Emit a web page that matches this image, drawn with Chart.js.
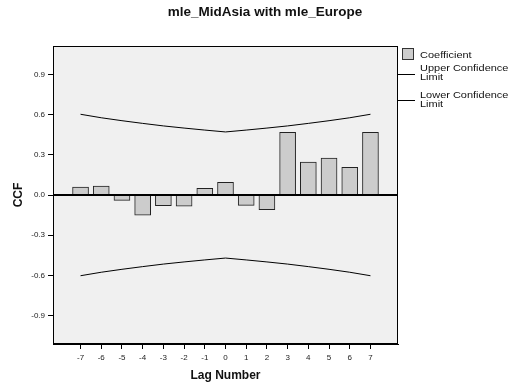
<!DOCTYPE html>
<html lang="en">
<head>
    <meta charset="UTF-8">
    <title>mle_MidAsia with mle_Europe</title>
    <script src="https://cdn.jsdelivr.net/npm/chart.js"></script>
    <style>
        html, body { margin: 0; padding: 0; background: #fff; }
        #wrap { width: 513px; height: 387px; }
    </style>
</head>
<body>
    <div id="wrap"><canvas id="ccfChart" width="513" height="387"></canvas></div>

    <script>
        // Data
        const lags = [-7, -6, -5, -4, -3, -2, -1, 0, 1, 2, 3, 4, 5, 6, 7];
        const coefficient = [0.06, 0.067, -0.04, -0.15, -0.08, -0.084, 0.05, 0.095,
                             -0.077, -0.11, 0.468, 0.246, 0.276, 0.206, 0.468];
        const upperLimit = [0.603, 0.577, 0.555, 0.535, 0.516, 0.500, 0.485, 0.471,
                            0.485, 0.500, 0.516, 0.535, 0.555, 0.577, 0.603];
        const lowerLimit = upperLimit.map(v => -v);
        const yTicks = [-0.9, -0.6, -0.3, 0.0, 0.3, 0.6, 0.9];

        const FONT = "'Liberation Sans', Arial, sans-serif";

        const toXY = arr => arr.map((v, i) => ({ x: lags[i], y: v }));

        // text slightly wider than the font, like the original export
        function wideText(ctx, text, x, y, sx) {
            ctx.save();
            ctx.scale(sx, 1);
            ctx.fillText(text, x / sx, y);
            ctx.restore();
        }

        // background, frame, zero line, title and legend
        const decor = {
            id: 'decor',
            beforeDraw(chart) {
                const { ctx, chartArea: a } = chart;
                ctx.save();
                ctx.fillStyle = '#f0f0f0';
                ctx.fillRect(a.left, a.top, a.right - a.left, a.bottom - a.top);
                ctx.restore();
            },
            afterDatasetsDraw(chart) {
                const { ctx, chartArea: a } = chart;
                const y0 = chart.scales.y.getPixelForValue(0);
                ctx.save();
                ctx.strokeStyle = '#000';
                ctx.lineWidth = 2;
                ctx.beginPath();
                ctx.moveTo(a.left, y0);
                ctx.lineTo(a.right, y0);
                ctx.stroke();
                ctx.lineWidth = 1;
                ctx.strokeRect(a.left + 0.5, a.top + 0.5, a.right - a.left - 1, a.bottom - a.top - 1);
                ctx.restore();
            },
            afterDraw(chart) {
                const { ctx, chartArea: a } = chart;
                ctx.save();
                ctx.fillStyle = '#111';
                ctx.font = 'bold 13.5px ' + FONT;
                ctx.textAlign = 'center';
                ctx.textBaseline = 'middle';
                ctx.fillText('mle_MidAsia with mle_Europe', 265, 12);

                // legend
                ctx.textAlign = 'left';
                ctx.textBaseline = 'alphabetic';
                ctx.fillStyle = '#cccccc';
                ctx.fillRect(402, 48, 12, 12);
                ctx.strokeStyle = '#333';
                ctx.lineWidth = 1;
                ctx.strokeRect(402.5, 48.5, 11, 11);

                ctx.strokeStyle = '#000';
                ctx.beginPath();
                ctx.moveTo(a.right, 74.5);
                ctx.lineTo(415, 74.5);
                ctx.moveTo(a.right, 100.5);
                ctx.lineTo(415, 100.5);
                ctx.stroke();

                ctx.fillStyle = '#111';
                ctx.font = '9.8px ' + FONT;
                wideText(ctx, 'Coefficient', 420, 57.5, 1.12);
                wideText(ctx, 'Upper Confidence', 420, 71, 1.12);
                wideText(ctx, 'Limit', 420, 79.5, 1.12);
                wideText(ctx, 'Lower Confidence', 420, 98.3, 1.12);
                wideText(ctx, 'Limit', 420, 106.7, 1.12);
                ctx.restore();
            }
        };

        const ctx = document.getElementById('ccfChart').getContext('2d');
        const ccfChart = new Chart(ctx, {
            type: 'bar',
            data: {
                datasets: [{
                    type: 'bar',
                    label: 'Coefficient',
                    data: toXY(coefficient),
                    backgroundColor: '#cccccc',
                    borderColor: '#222',
                    borderWidth: 1,
                    barThickness: 16,
                    order: 2
                }, {
                    type: 'line',
                    label: 'Upper Confidence Limit',
                    data: toXY(upperLimit),
                    borderColor: '#000',
                    borderWidth: 1,
                    pointRadius: 0,
                    tension: 0,
                    fill: false,
                    order: 1
                }, {
                    type: 'line',
                    label: 'Lower Confidence Limit',
                    data: toXY(lowerLimit),
                    borderColor: '#000',
                    borderWidth: 1,
                    pointRadius: 0,
                    tension: 0,
                    fill: false,
                    order: 1
                }]
            },
            options: {
                responsive: false,
                animation: false,
                layout: { padding: { left: 0, right: 115, top: 46, bottom: 0 } },
                plugins: {
                    legend: { display: false },
                    tooltip: { enabled: false }
                },
                scales: {
                    x: {
                        type: 'linear',
                        min: -8.33,
                        max: 8.33,
                        offset: false,
                        afterBuildTicks: s => { s.ticks = lags.map(v => ({ value: v })); },
                        afterFit: s => { s.height = 43; },
                        grid: { display: true, drawOnChartArea: false, tickLength: 5, color: '#000', offset: false },
                        border: { display: true, color: '#000' },
                        ticks: {
                            color: '#222',
                            font: { family: FONT, size: 8 },
                            padding: 4,
                            maxRotation: 0,
                            autoSkip: false,
                            callback: v => String(v)
                        },
                        title: {
                            display: true,
                            text: 'Lag Number',
                            color: '#111',
                            font: { family: FONT, size: 12, weight: 'bold' },
                            padding: { top: 0, bottom: 4 }
                        }
                    },
                    y: {
                        min: -1.113,
                        max: 1.113,
                        afterBuildTicks: s => { s.ticks = yTicks.map(v => ({ value: v })); },
                        afterFit: s => { s.width = 53; },
                        grid: { display: true, drawOnChartArea: false, tickLength: 5, color: '#000' },
                        border: { display: true, color: '#000' },
                        ticks: {
                            color: '#222',
                            font: { family: FONT, size: 8 },
                            padding: 3,
                            callback: v => v.toFixed(1)
                        },
                        title: {
                            display: true,
                            text: 'CCF',
                            color: '#111',
                            font: { family: FONT, size: 12, weight: 'bold' },
                            padding: { top: 11, bottom: 0 }
                        }
                    }
                }
            },
            plugins: [decor]
        });
    </script>
</body>
</html>
